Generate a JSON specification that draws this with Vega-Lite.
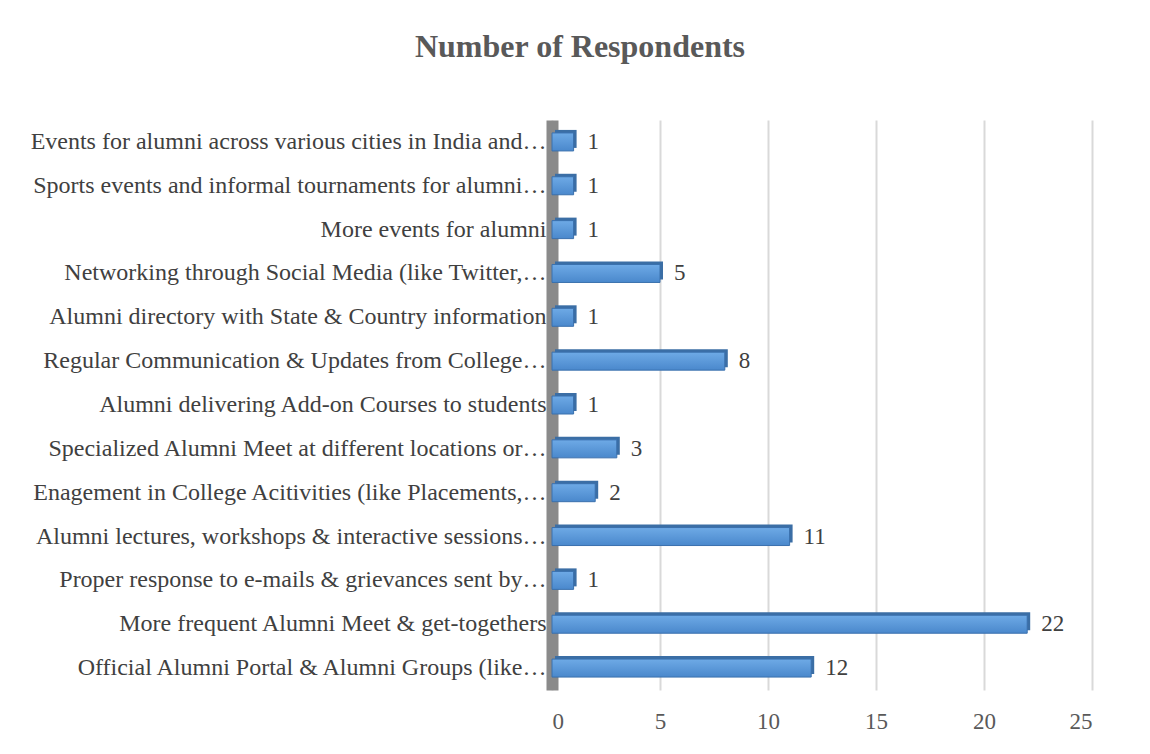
{
  "$schema": "https://vega.github.io/schema/vega-lite/v6.json",
  "autosize": "none",
  "width": 540,
  "height": 570,
  "padding": {"left": 552, "top": 120, "right": 58, "bottom": 64},
  "background": "white",
  "title": {
    "text": "Number of Respondents",
    "anchor": "middle",
    "frame": "group",
    "dx": -242,
    "offset": 56,
    "font": "Liberation Serif",
    "fontSize": 32,
    "fontWeight": "bold",
    "color": "#595959"
  },
  "config": {"view": {"stroke": null}},
  "data": {
    "values": [
      {"item": "Events for alumni across various cities in India and…", "n": 1, "ord": 1},
      {"item": "Sports events and informal tournaments for alumni…", "n": 1, "ord": 2},
      {"item": "More events for alumni", "n": 1, "ord": 3},
      {"item": "Networking through Social Media (like Twitter,…", "n": 5, "ord": 4},
      {"item": "Alumni directory with State & Country information", "n": 1, "ord": 5},
      {"item": "Regular Communication & Updates from College…", "n": 8, "ord": 6},
      {"item": "Alumni delivering Add-on Courses to students", "n": 1, "ord": 7},
      {"item": "Specialized Alumni Meet at different locations or…", "n": 3, "ord": 8},
      {"item": "Enagement in College Acitivities (like Placements,…", "n": 2, "ord": 9},
      {"item": "Alumni lectures, workshops & interactive sessions…", "n": 11, "ord": 10},
      {"item": "Proper response to e-mails & grievances sent by…", "n": 1, "ord": 11},
      {"item": "More frequent Alumni Meet & get-togethers", "n": 22, "ord": 12},
      {"item": "Official Alumni Portal & Alumni Groups (like…", "n": 12, "ord": 13}
    ]
  },
  "encoding": {
    "y": {
      "field": "item",
      "type": "nominal",
      "sort": {"field": "ord", "order": "ascending"},
      "title": null,
      "scale": {"paddingInner": 0.6, "paddingOuter": 0.3},
      "axis": {
        "labelFont": "Liberation Serif",
        "labelFontSize": 24,
        "labelColor": "#404040",
        "labelLimit": 600,
        "labelPadding": 6,
        "ticks": false,
        "domain": true,
        "domainColor": "#8a8a8a",
        "domainWidth": 12,
        "grid": false
      }
    },
    "x": {
      "field": "n",
      "type": "quantitative",
      "title": null,
      "scale": {"domain": [0, 25]},
      "axis": {
        "values": [0, 5, 10, 15, 20, 25],
        "labelFont": "Liberation Serif",
        "labelFontSize": 23,
        "labelColor": "#595959",
        "labelPadding": 20,
        "domain": false,
        "ticks": false,
        "grid": true,
        "gridColor": "#d9d9d9",
        "gridWidth": 2
      }
    }
  },
  "layer": [
    {
      "mark": {"type": "bar", "size": 18, "xOffset": 3, "yOffset": -3, "color": "#3b6ea5"}
    },
    {
      "mark": {
        "type": "bar",
        "size": 18,
        "stroke": "#3a70ad",
        "strokeWidth": 1,
        "color": {
          "gradient": "linear",
          "x1": 0, "y1": 0, "x2": 0, "y2": 1,
          "stops": [
            {"offset": 0, "color": "#6eaae6"},
            {"offset": 1, "color": "#4a88cc"}
          ]
        }
      }
    },
    {
      "mark": {
        "type": "text",
        "align": "left",
        "dx": 14,
        "font": "Liberation Serif",
        "fontSize": 23,
        "color": "#404040"
      },
      "encoding": {"text": {"field": "n", "type": "quantitative"}}
    }
  ]
}
